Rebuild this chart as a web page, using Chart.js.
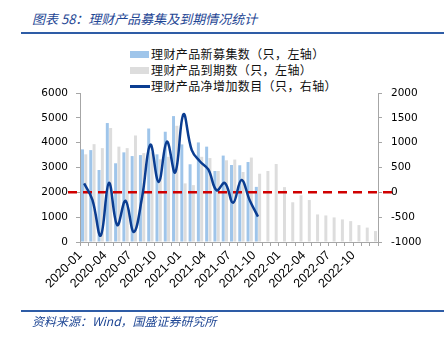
<!DOCTYPE html>
<html>
<head>
<meta charset="utf-8">
<script src="https://cdn.jsdelivr.net/npm/chart.js@4.4.1/dist/chart.umd.min.js"></script>
<style>
  body { margin: 0; background: #fff; }
  #wrap { position: relative; width: 446px; height: 337px; overflow: hidden; font-family: "Noto Sans CJK SC", sans-serif; }
  #title { position: absolute; left: 32px; top: 9px; font-size: 13px; font-style: italic; color: #1e4694; white-space: nowrap; }
  .rule { position: absolute; left: 21px; width: 423px; height: 2px; background: #2e5ca6; }
  #source { position: absolute; left: 32px; top: 312px; font-size: 12px; font-style: italic; color: #1e4694; white-space: nowrap; }
  #legend { position: absolute; left: 130px; top: 46px; font-size: 12px; color: #111; }
  .item { position: relative; height: 16px; line-height: 16px; white-space: nowrap; padding-left: 21px; letter-spacing: 0.4px; }
  .swatch { position: absolute; left: 0; }
  canvas { position: absolute; left: 0; top: 0; }
</style>
</head>
<body>
<div id="wrap">
  <div id="title">图表 58：理财产品募集及到期情况统计</div>
  <div class="rule" style="top: 32px;"></div>
  <div id="legend"></div>
  <canvas id="chart" width="446" height="337"></canvas>
  <div class="rule" style="top: 310px;"></div>
  <div id="source">资料来源：Wind，国盛证券研究所</div>
</div>
<script>
// Months 2020-01 .. 2022-12
const months = [
  "2020-01", "2020-02", "2020-03", "2020-04", "2020-05", "2020-06",
  "2020-07", "2020-08", "2020-09", "2020-10", "2020-11", "2020-12",
  "2021-01", "2021-02", "2021-03", "2021-04", "2021-05", "2021-06",
  "2021-07", "2021-08", "2021-09", "2021-10", "2021-11", "2021-12",
  "2022-01", "2022-02", "2022-03", "2022-04", "2022-05", "2022-06",
  "2022-07", "2022-08", "2022-09", "2022-10", "2022-11", "2022-12"
];

// New products raised (left axis)
const newIssued = [3730, 3700, 2900, 4790, 3170, 3610, 3460, 3500, 4570, 3530, 4440, 5070,
  3930, 3130, 4010, 3840, 2860, 3480, 3100, 3090, 3220, 2220];

// Products maturing (left axis)
const matured = [3530, 3940, 3780, 4590, 3840, 3780, 4290, 3580, 3610, 3330, 3430, 4680,
  2360, 2290, 3430, 3380, 2860, 3290, 3320, 2820, 3400, 2750, 2860, 3140,
  2210, 1600, 1880, 1690, 1110, 1070, 990, 910, 840, 680, 580, 440];

// Net increase (right axis)
const netAdded = [180, -150, -870, 190, -660, -170, -800, -100, 960, 210, 1020, 400,
  1570, 850, 620, 460, 40, 190, -210, 250, -160, -490];

const leftTicks = [0, 1000, 2000, 3000, 4000, 5000, 6000];
const rightTicks = [-1000, -500, 0, 500, 1000, 1500, 2000];

const seriesNames = ["理财产品新募集数（只，左轴）", "理财产品到期数（只，左轴）", "理财产品净增加数目（只，右轴）"];

const axisGray = "#a6a6a6";
const tickFont = { family: "DejaVu Sans", size: 10.5 };

// Red dashed zero line of the right axis, drawn before the line series
const zeroLinePlugin = {
  id: "zeroLine",
  beforeDatasetDraw(chart, args) {
    if (args.index !== 2) return;
    const y = chart.scales.y1.getPixelForValue(0);
    const ctx = chart.ctx;
    ctx.save();
    ctx.strokeStyle = "#d00000";
    ctx.lineWidth = 2.5;
    ctx.setLineDash([9, 6]);
    ctx.beginPath();
    ctx.moveTo(chart.chartArea.left - 12, y);
    ctx.lineTo(chart.chartArea.right + 14, y);
    ctx.stroke();
    ctx.restore();
  }
};

const chart = new Chart(document.getElementById("chart"), {
  type: "bar",
  data: {
    labels: months,
    datasets: [
      {
        label: seriesNames[0],
        data: newIssued,
        backgroundColor: "#9fc5ea",
        yAxisID: "y",
        order: 1,
        categoryPercentage: 0.8,
        barPercentage: 0.9
      },
      {
        label: seriesNames[1],
        data: matured,
        backgroundColor: "#dddddd",
        yAxisID: "y",
        order: 2,
        categoryPercentage: 0.8,
        barPercentage: 0.9
      },
      {
        type: "line",
        label: seriesNames[2],
        data: netAdded,
        borderColor: "#0b3d91",
        borderWidth: 2.5,
        pointRadius: 0,
        tension: 0.4,
        fill: false,
        yAxisID: "y1",
        order: 0
      }
    ]
  },
  options: {
    responsive: false,
    animation: false,
    layout: { padding: { top: 93, left: 0, right: 0, bottom: 0 } },
    plugins: {
      legend: { display: false },
      tooltip: { enabled: false }
    },
    scales: {
      x: {
        offset: true,
        grid: { display: true, drawOnChartArea: false, color: axisGray, tickLength: 4 },
        border: { color: axisGray },
        ticks: {
          autoSkip: false,
          maxRotation: 45,
          minRotation: 45,
          color: "#000",
          padding: 2,
          labelOffset: -4,
          font: { family: "Liberation Sans", size: 12.5 },
          callback: (v, i) => (i % 3 === 0 ? months[i] : "")
        },
        afterFit: s => { s.height = 95; }
      },
      y: {
        position: "left",
        min: 0,
        max: 6000,
        afterBuildTicks: s => { s.ticks = leftTicks.map(v => ({ value: v })); },
        grid: { drawOnChartArea: false, color: axisGray, tickLength: 4 },
        border: { color: axisGray },
        ticks: { color: "#000", padding: 8, font: tickFont, callback: v => String(v) },
        afterFit: s => { s.width = 80; }
      },
      y1: {
        position: "right",
        min: -1000,
        max: 2000,
        afterBuildTicks: s => { s.ticks = rightTicks.map(v => ({ value: v })); },
        grid: { drawOnChartArea: false, color: axisGray, tickLength: 4 },
        border: { color: axisGray },
        ticks: { color: "#000", padding: 9, font: tickFont, callback: v => String(v) },
        afterFit: s => { s.width = 68; }
      }
    }
  },
  plugins: [zeroLinePlugin]
});

// Build the legend from the datasets
const legendEl = document.getElementById("legend");
chart.data.datasets.forEach(ds => {
  const item = document.createElement("div");
  item.className = "item";
  const sw = document.createElement("span");
  sw.className = "swatch";
  if (ds.type === "line") {
    sw.style.cssText = "top: 7px; width: 20px; height: 2.5px; background: " + ds.borderColor + ";";
  } else {
    sw.style.cssText = "top: 5px; width: 19px; height: 7px; background: " + ds.backgroundColor + ";";
  }
  item.appendChild(sw);
  item.appendChild(document.createTextNode(ds.label));
  legendEl.appendChild(item);
});
</script>
</body>
</html>
